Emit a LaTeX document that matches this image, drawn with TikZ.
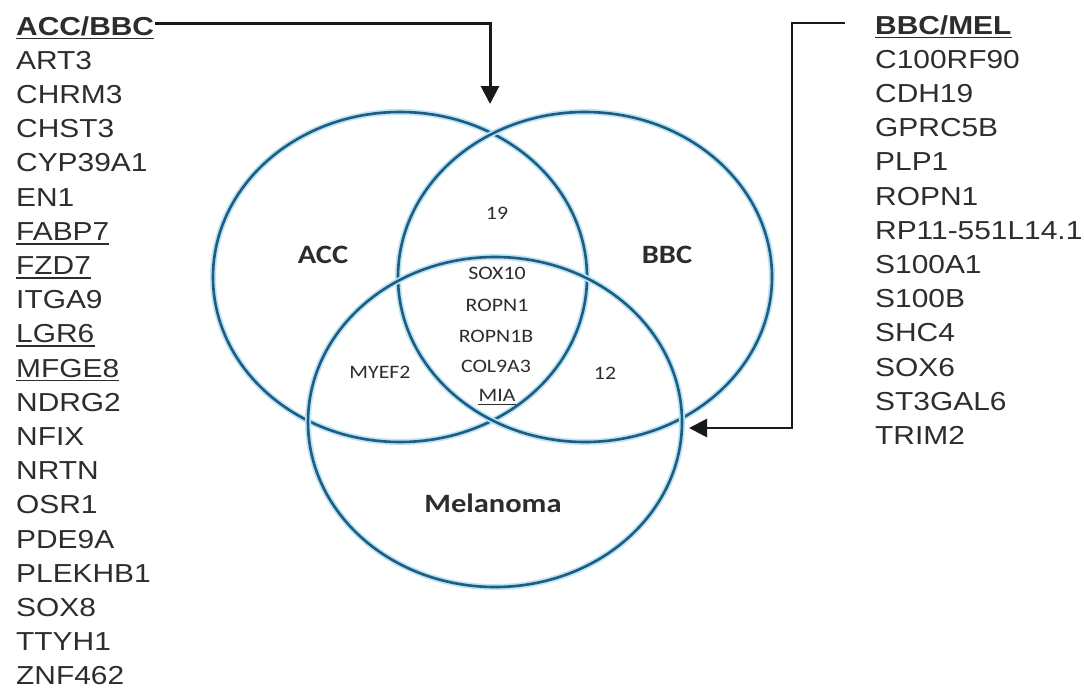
\documentclass[tikz,border=0pt]{standalone}
\usepackage{fontspec}
\usetikzlibrary{shapes.geometric,arrows.meta}
\newfontfamily\listfont[FakeStretch=1.15]{Liberation Sans}
\newfontfamily\vennfont[FakeStretch=1.15]{Carlito}
\definecolor{ringblue}{RGB}{32,92,130}
\definecolor{ringglow}{RGB}{185,228,245}
\definecolor{txtgray}{RGB}{45,45,45}
\begin{document}
\begin{tikzpicture}[x=1pt,y=-1pt,
  listitem/.style={anchor=base west,inner sep=0pt,text=txtgray,font=\listfont\fontsize{26}{30}\selectfont},
  listhead/.style={listitem,font=\listfont\bfseries\fontsize{26}{30}\selectfont},
  ulline/.style={draw=txtgray,line width=1.8pt},
  ring/.style={ellipse,draw=ringblue,line width=2.6pt,minimum width=374pt,minimum height=330pt,inner sep=0pt,
    preaction={draw=ringglow,line width=6pt}},
  setlabel/.style={inner sep=0pt,text=txtgray,font=\vennfont\bfseries\fontsize{26.5}{30}\selectfont},
  genelabel/.style={inner sep=0pt,text=txtgray,font=\vennfont\fontsize{19}{22}\selectfont},
  conn/.style={draw=black!90,line width=3pt,-{Triangle[length=18pt,width=18pt]}},
]
\useasboundingbox (0,0) rectangle (1084,691);
\fill[white] (0,0) rectangle (1084,691);

% Venn rings
\node[ring] (acc) at (400,277) {};
\node[ring] (bbc) at (585,277) {};
\node[ring] (mel) at (495,422) {};

% Venn labels
\node[setlabel] (lacc) at (323,255) {ACC};
\node[setlabel] (lbbc) at (667,255) {BBC};
\node[setlabel] (lmel) at (493,503) {Melanoma};
\node[genelabel] (n19) at (497,213) {19};
\node[genelabel] (g1) at (497,273) {SOX10};
\node[genelabel] (g2) at (497,305) {ROPN1};
\node[genelabel] (g3) at (496,336) {ROPN1B};
\node[genelabel] (g4) at (496,366) {COL9A3};
\node[genelabel] (g5) at (497,395) {MIA};
\draw[ulline,line width=1.2pt] ([yshift=-3pt]g5.south west) -- ([yshift=-3pt]g5.south east);
\node[genelabel] (myef) at (380,372) {MYEF2};
\node[genelabel] (n12) at (605,373) {12};

% Left list
\node[listhead] (L0) at (16,35) {ACC/BBC};
\node[listitem] (L1) at (16,69.2) {ART3};
\node[listitem] (L2) at (16,103.4) {CHRM3};
\node[listitem] (L3) at (16,137.6) {CHST3};
\node[listitem] (L4) at (16,171.8) {CYP39A1};
\node[listitem] (L5) at (16,206) {EN1};
\node[listitem] (L6) at (16,240.2) {FABP7};
\node[listitem] (L7) at (16,274.4) {FZD7};
\node[listitem] (L8) at (16,308.6) {ITGA9};
\node[listitem] (L9) at (16,342.8) {LGR6};
\node[listitem] (L10) at (16,377) {MFGE8};
\node[listitem] (L11) at (16,411.2) {NDRG2};
\node[listitem] (L12) at (16,445.4) {NFIX};
\node[listitem] (L13) at (16,479.6) {NRTN};
\node[listitem] (L14) at (16,513.8) {OSR1};
\node[listitem] (L15) at (16,548) {PDE9A};
\node[listitem] (L16) at (16,582.2) {PLEKHB1};
\node[listitem] (L17) at (16,616.4) {SOX8};
\node[listitem] (L18) at (16,650.6) {TTYH1};
\node[listitem] (L19) at (16,684.8) {ZNF462};
\foreach \n in {L0,L6,L7,L9,L10}
  \draw[ulline] ([yshift=-3.5pt]\n.base west) -- ([yshift=-3.5pt]\n.base east);

% Right list
\node[listhead] (R0) at (875,34) {BBC/MEL};
\node[listitem] (R1) at (875,68.2) {C100RF90};
\node[listitem] (R2) at (875,102.4) {CDH19};
\node[listitem] (R3) at (875,136.6) {GPRC5B};
\node[listitem] (R4) at (875,170.8) {PLP1};
\node[listitem] (R5) at (875,205) {ROPN1};
\node[listitem] (R6) at (875,239.2) {RP11-551L14.1};
\node[listitem] (R7) at (875,273.4) {S100A1};
\node[listitem] (R8) at (875,307.6) {S100B};
\node[listitem] (R9) at (875,341.8) {SHC4};
\node[listitem] (R10) at (875,376) {SOX6};
\node[listitem] (R11) at (875,410.2) {ST3GAL6};
\node[listitem] (R12) at (875,444.4) {TRIM2};
\draw[ulline] ([yshift=-3.5pt]R0.base west) -- ([yshift=-3.5pt]R0.base east);

% Connectors
\coordinate (tip1) at (490,104);
\coordinate (start2) at (845,23);
\coordinate (bend2) at (792,23);
\coordinate (tip2) at (689,428);
\draw[conn] ([xshift=1pt,yshift=2pt]L0.east) -| (tip1);
\draw[conn,line width=2.6pt] (start2) -- (bend2) |- (tip2);
\end{tikzpicture}
\end{document}
